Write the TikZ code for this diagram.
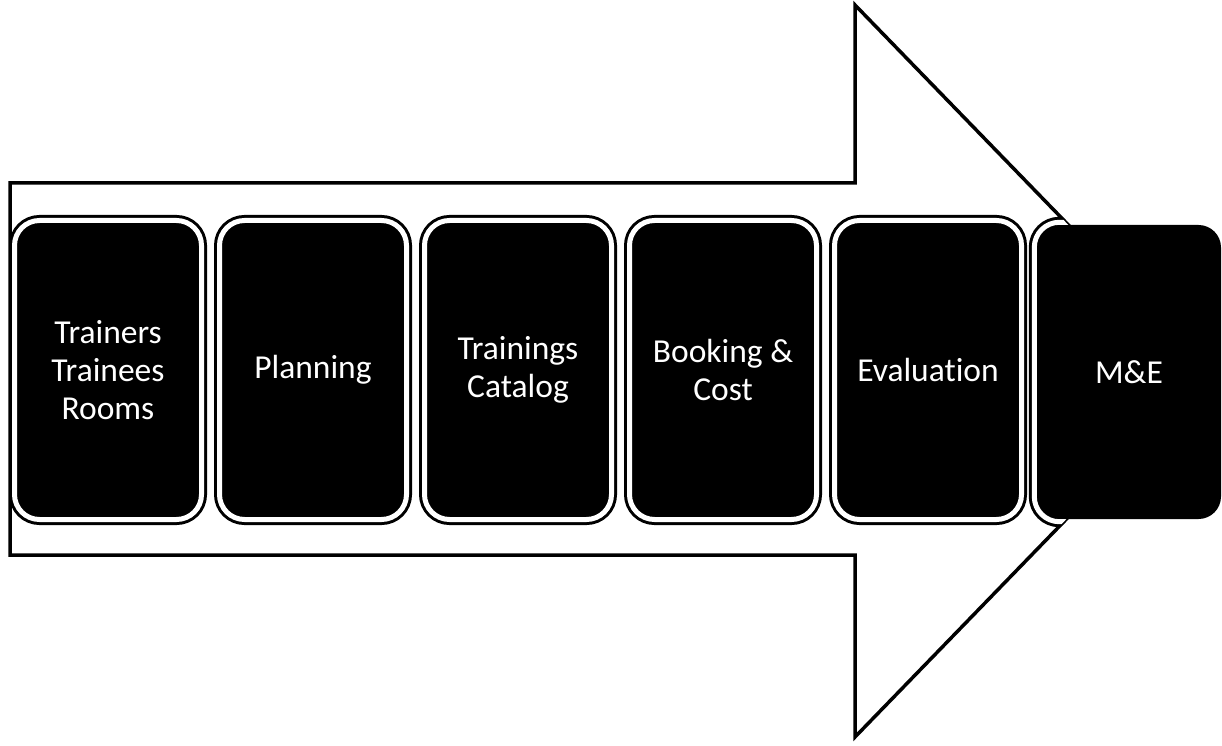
\documentclass[tikz,border=0pt]{standalone}
\usepackage{fontspec}
\setmainfont[Ligatures=NoCommon]{Carlito}
\begin{document}
\begin{tikzpicture}[x=1pt,y=1pt,
  arrowline/.style={draw=black, line width=3.5pt, fill=white, line join=miter},
  labelfont/.style={text=white, align=center, font=\fontsize{33.5}{38}\selectfont},
  stagebox/.style={labelfont, fill=black, draw=black, double=white, line width=3pt, double distance=5pt,
    rounded corners=25pt, minimum width=187pt, minimum height=299pt, inner sep=0pt},
  endbox/.style={labelfont, fill=black, rounded corners=22.5pt, minimum width=184pt, minimum height=294pt, inner sep=0pt},
  ringline/.style={draw=black, double=white, line width=3pt, double distance=5pt, rounded corners=25pt}
]
\useasboundingbox (0,0) rectangle (1222,745);
\draw[arrowline] (10,562) -- (855,562) -- (855,740) -- (1210,374) -- (855,8) -- (855,190) -- (10,190) -- cycle;

\node[stagebox] (s1) at (108,375) {Trainers\\Trainees\\Rooms};
\node[stagebox] (s2) at (313,375) {Planning};
\node[stagebox] (s3) at (518,375) {Trainings\\Catalog};
\node[stagebox] (s4) at (723,375) {Booking \&\\Cost};
\node[stagebox] (s5) at (928,375) {Evaluation};
\node[endbox] (s6) at (1129,373) {M\&E};
\begin{scope}
  \clip (10,562) -- (855,562) -- (855,740) -- (1210,374) -- (855,8) -- (855,190) -- (10,190) -- cycle;
  \draw[ringline] ([shift={(-2.5pt,-2.5pt)}]s6.south west) rectangle ([shift={(2.5pt,2.5pt)}]s6.north east);
\end{scope}
\end{tikzpicture}
\end{document}
